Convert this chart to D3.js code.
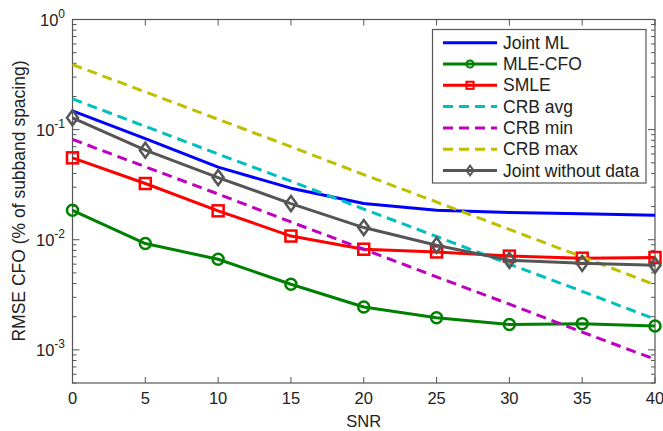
<!DOCTYPE html>
<html>
<head>
<meta charset="utf-8">
<script src="https://cdn.jsdelivr.net/npm/d3@7"></script>
<style>
  body { margin: 0; background: #fff; }
  text { font-family: Arial, "Liberation Sans", sans-serif; fill: #222; }
</style>
</head>
<body>
<script>
// SNR points (dB)
var snr = [0, 5, 10, 15, 20, 25, 30, 35, 40];

// RMSE CFO per estimator
var jointML      = [0.148, 0.083, 0.0456, 0.0294, 0.0213, 0.0185, 0.0177, 0.0172, 0.0167];
var mleCFO       = [0.0185, 0.00923, 0.00665, 0.00394, 0.00245, 0.00196, 0.0017, 0.00173, 0.00165];
var smle         = [0.0554, 0.0324, 0.0183, 0.0108, 0.0082, 0.00775, 0.0071, 0.0068, 0.0069];
var crbAvg       = [0.19, 0.107, 0.06, 0.034, 0.019, 0.0107, 0.006, 0.0034, 0.0019];
var crbMin       = [0.0815, 0.046, 0.026, 0.0145, 0.0082, 0.0046, 0.0026, 0.00145, 0.00082];
var crbMax       = [0.39, 0.22, 0.124, 0.07, 0.039, 0.022, 0.0124, 0.007, 0.0039];
var jointNoData  = [0.128, 0.0651, 0.0367, 0.0213, 0.0129, 0.0089, 0.0065, 0.0061, 0.00586];

var xTicks = [0, 5, 10, 15, 20, 25, 30, 35, 40];
var yMajor = [1e-3, 1e-2, 1e-1, 1e0];
var yExp   = ["-3", "-2", "-1", "0"];

var series = [
  {name: "Joint ML", values: jointML, color: "#0000ff", dash: null, marker: null},
  {name: "MLE-CFO", values: mleCFO, color: "#008000", dash: null, marker: "circle"},
  {name: "SMLE", values: smle, color: "#ff0000", dash: null, marker: "square"},
  {name: "CRB avg", values: crbAvg, color: "#00bfbf", dash: "10,6", marker: null},
  {name: "CRB min", values: crbMin, color: "#bf00bf", dash: "10,6", marker: null},
  {name: "CRB max", values: crbMax, color: "#bfbf00", dash: "10,6", marker: null},
  {name: "Joint without data", values: jointNoData, color: "#555555", dash: null, marker: "diamond"}
];

var W = 663, H = 431;
var box = {l: 72.5, r: 655, t: 19.5, b: 383};

var svg = d3.select("body").append("svg").attr("width", W).attr("height", H);

var x = d3.scaleLinear().domain([0, 40]).range([box.l, box.r]);
var y = d3.scaleLog().domain([5e-4, 1]).range([box.b, box.t]);

var axisColor = "#555";

// frame
svg.append("rect")
  .attr("x", box.l).attr("y", box.t)
  .attr("width", box.r - box.l).attr("height", box.b - box.t)
  .attr("fill", "none").attr("stroke", axisColor).attr("stroke-width", 1.2);

// x ticks (inward, bottom and top)
xTicks.forEach(function(t) {
  svg.append("line").attr("x1", x(t)).attr("x2", x(t)).attr("y1", box.b).attr("y2", box.b - 6)
    .attr("stroke", axisColor);
  svg.append("line").attr("x1", x(t)).attr("x2", x(t)).attr("y1", box.t).attr("y2", box.t + 6)
    .attr("stroke", axisColor);
  svg.append("text").attr("x", x(t)).attr("y", 404).attr("text-anchor", "middle")
    .attr("font-size", 16.5).text(t);
});

// y ticks: majors at decades, minors in between
y.ticks().forEach(function(t) {
  var major = yMajor.some(function(m) { return Math.abs(m - t) / m < 1e-6; });
  var len = major ? 7 : 4;
  svg.append("line").attr("x1", box.l).attr("x2", box.l + len).attr("y1", y(t)).attr("y2", y(t))
    .attr("stroke", axisColor);
  svg.append("line").attr("x1", box.r).attr("x2", box.r - len).attr("y1", y(t)).attr("y2", y(t))
    .attr("stroke", axisColor);
});

yMajor.forEach(function(t, i) {
  var lab = svg.append("text").attr("x", 65).attr("y", y(t) + 6).attr("text-anchor", "end")
    .attr("font-size", 16.5);
  lab.append("tspan").text("10");
  lab.append("tspan").attr("dy", -8).attr("font-size", 12).text(yExp[i]);
});

// axis titles
svg.append("text").attr("x", (box.l + box.r) / 2).attr("y", 427).attr("text-anchor", "middle")
  .attr("font-size", 16.5).text("SNR");
svg.append("text").attr("transform", "translate(25,201) rotate(-90)")
  .attr("text-anchor", "middle").attr("font-size", 17.5)
  .text("RMSE CFO (% of subband spacing)");

var line = d3.line().x(function(d, i) { return x(snr[i]); }).y(function(d) { return y(d); });

function drawMarker(g, kind, cx, cy, color, s, sw) {
  if (kind === "circle") {
    g.append("circle").attr("cx", cx).attr("cy", cy).attr("r", 5.5 * s)
      .attr("fill", "none").attr("stroke", color).attr("stroke-width", sw);
  } else if (kind === "square") {
    var a = 11 * s;
    g.append("rect").attr("x", cx - a / 2).attr("y", cy - a / 2).attr("width", a).attr("height", a)
      .attr("fill", "none").attr("stroke", color).attr("stroke-width", sw);
  } else if (kind === "diamond") {
    var w = 5.5 * s, h = 7.5 * s;
    g.append("path")
      .attr("d", "M" + cx + "," + (cy - h) + "L" + (cx + w) + "," + cy + "L" + cx + "," + (cy + h) + "L" + (cx - w) + "," + cy + "Z")
      .attr("fill", "none").attr("stroke", color).attr("stroke-width", sw);
  }
}

series.forEach(function(s) {
  var g = svg.append("g");
  g.append("path").datum(s.values).attr("d", line)
    .attr("fill", "none").attr("stroke", s.color).attr("stroke-width", 3)
    .attr("stroke-linejoin", "round")
    .attr("stroke-dasharray", s.dash);
  if (s.marker) {
    s.values.forEach(function(v, i) { drawMarker(g, s.marker, x(snr[i]), y(v), s.color, 1, 2.5); });
  }
});

// legend
var lg = svg.append("g");
lg.append("rect").attr("x", 432.5).attr("y", 29.5).attr("width", 213.5).attr("height", 153.5)
  .attr("fill", "#fff").attr("stroke", axisColor).attr("stroke-width", 1.2);
series.forEach(function(s, i) {
  var ry = 42.7 + i * 21.3;
  lg.append("line").attr("x1", 443).attr("x2", 497).attr("y1", ry).attr("y2", ry)
    .attr("stroke", s.color).attr("stroke-width", 3).attr("stroke-dasharray", s.dash);
  if (s.marker) drawMarker(lg, s.marker, 470, ry, s.color, 0.65, 2);
  lg.append("text").attr("x", 503).attr("y", ry + 6).attr("font-size", 17.5).text(s.name);
});
</script>
</body>
</html>
